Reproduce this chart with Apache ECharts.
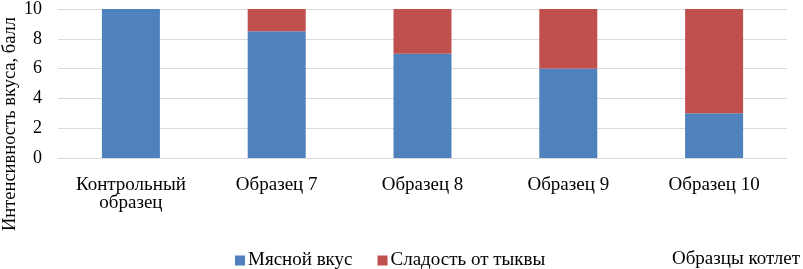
<!DOCTYPE html>
<html><head><meta charset="utf-8">
<script src="https://cdn.jsdelivr.net/npm/echarts@6/dist/echarts.min.js"></script>
<style>html,body{margin:0;padding:0;background:#fff}#c{width:803px;height:269px}</style>
</head><body><div id="c"></div>
<script>
const categories = ['Контрольный\nобразец', 'Образец 7', 'Образец 8', 'Образец 9', 'Образец 10'];
const meatTaste = [10, 8.5, 7, 6, 3];
const pumpkinSweetness = [0, 1.5, 3, 4, 7];
const yTicks = [0, 2, 4, 6, 8, 10];
const seriesNames = ['Мясной вкус', 'Сладость от тыквы'];
const yAxisTitle = 'Интенсивность вкуса, балл';
const xAxisTitle = 'Образцы котлет';

const font = 'Liberation Serif';
const chart = echarts.init(document.getElementById('c'), null, {renderer: 'canvas'});
chart.setOption({
  animation: false,
  textStyle: {fontFamily: font},
  grid: {left: 58, right: 16, top: 7, bottom: 111, containLabel: false},
  legend: {
    data: seriesNames,
    left: 230, top: 246,
    itemWidth: 10, itemHeight: 10, itemGap: 25,
    icon: 'rect',
    textStyle: {fontFamily: font, fontSize: 19, color: '#000', padding: [0,0,0,-2]}
  },
  graphic: [
    {type: 'text', right: 3, top: 250, style: {text: xAxisTitle, fontFamily: font, fontSize: 19, fill: '#000'}},
    {type: 'text', x: 1, y: 124, rotation: Math.PI/2, style: {text: yAxisTitle, fontFamily: font, fontSize: 18.5, fill: '#000', align: 'center', verticalAlign: 'top'}}
  ],
  xAxis: {
    type: 'category', data: categories,
    axisLine: {show: false}, axisTick: {show: false},
    axisLabel: {fontFamily: font, fontSize: 19, color: '#000', margin: 18, lineHeight: 18, interval: 0}
  },
  yAxis: {
    type: 'value', min: 0, max: 10, interval: 2,
    axisLine: {show: false}, axisTick: {show: false},
    splitLine: {lineStyle: {color: '#d9d9d9', width: 1}},
    axisLabel: {fontFamily: font, fontSize: 18, color: '#000', margin: 16,
      formatter: v => yTicks.includes(v) ? String(v) : ''}
  },
  series: [
    {name: seriesNames[0], type: 'bar', stack: 's', data: meatTaste, barWidth: 58, itemStyle: {color: '#4f81bd'}},
    {name: seriesNames[1], type: 'bar', stack: 's', data: pumpkinSweetness, barWidth: 58, itemStyle: {color: '#c0504d'}}
  ]
});
</script></body></html>
